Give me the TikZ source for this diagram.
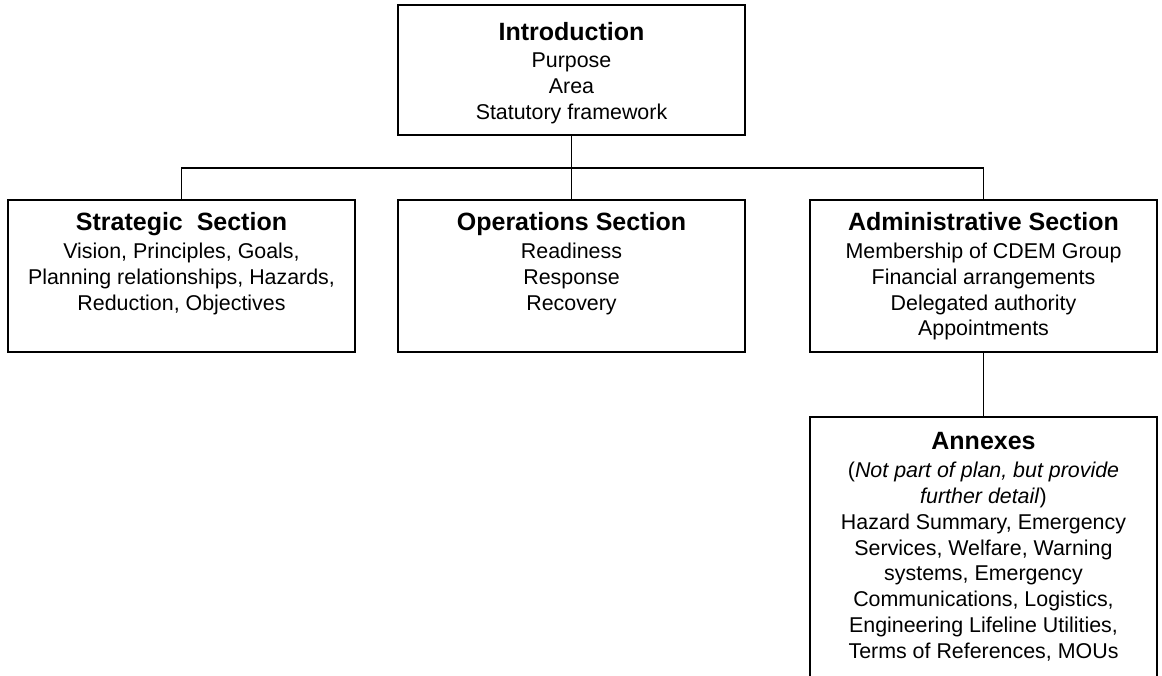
\documentclass[tikz,border=0pt]{standalone}
\usepackage{fontspec}
\setmainfont{Liberation Sans}
\usetikzlibrary{positioning}
\tikzset{secbox/.style={draw=black, line width=1.2pt, minimum width=347pt, inner sep=0pt},
    sectext/.style={align=center, inner sep=0pt, font=\fontsize{21.4}{25.8}\selectfont},
    link/.style={line width=1.2pt}}
\newcommand{\sectitle}[1]{{\fontsize{25}{30}\selectfont\bfseries #1}}

\begin{document}
\begin{tikzpicture}[x=1pt, y=1pt]
                    \path[use as bounding box, clip] (0, 0) rectangle (1162, 675);

                    \node[secbox, minimum height=130pt] (intro) at (571.5, 605) {};
                    \node[secbox, minimum height=152pt] (strat) at (181.5, 399) {};
                    \node[secbox, minimum height=152pt] (oper) at (571.5, 399) {};
                    \node[secbox, minimum height=152pt] (admin) at (983.5, 399) {};
                    \node[secbox, minimum height=300pt] (annex) at (983.5, 108) {};

                    \node[sectext, below=18pt of intro.north] (introtxt)
                    {\sectitle{Introduction}\\[1pt] Purpose\\ Area\\ Statutory framework};
                    \node[sectext, below=13pt of strat.north] (strattxt)
                    {\sectitle{Strategic~ Section}\\[2pt] Vision, Principles, Goals,\\ Planning relationships, Hazards,\\ Reduction, Objectives};
                    \node[sectext, below=13pt of oper.north] (opertxt)
                    {\sectitle{Operations Section}\\[2pt] Readiness\\ Response\\ Recovery};
                    \node[sectext, below=13pt of admin.north] (admintxt)
                    {\sectitle{Administrative Section}\\[2pt] Membership of CDEM Group\\ Financial arrangements\\ Delegated authority\\ Appointments};
                    \node[sectext, below=16pt of annex.north] (annextxt)
                    {\sectitle{Annexes}\\[2pt] (\textit{Not part of plan, but provide}\\ \textit{further detail})\\
                    Hazard Summary, Emergency\\ Services, Welfare, Warning\\ systems, Emergency\\
                    Communications, Logistics,\\ Engineering Lifeline Utilities,\\ Terms of References, MOUs};

                    \coordinate (bus) at (571.5, 507);
                    \draw[link] (intro.south) -- (bus);
                    \draw[link] (strat.north) |- (bus) -| (admin.north);
                    \draw[link] (bus) -- (oper.north);
                    \draw[link] (admin.south) -- (annex.north);
                \end{tikzpicture}
\end{document}
